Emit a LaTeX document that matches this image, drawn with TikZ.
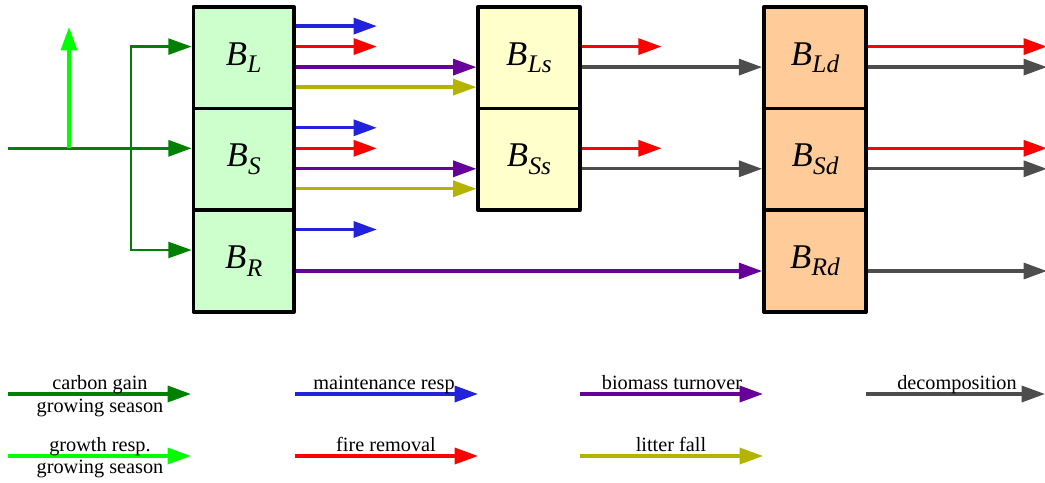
\documentclass[tikz,border=0pt]{standalone}
\usepackage{fontspec}
\setmainfont{Liberation Serif}
\usetikzlibrary{arrows.meta,calc}
\pgfdeclarelayer{bg}
\pgfsetlayers{bg,main}
\definecolor{cgreen}{RGB}{0,128,0}
\definecolor{cgrowth}{RGB}{0,255,0}
\definecolor{cblue}{RGB}{34,34,221}
\definecolor{cred}{RGB}{255,0,0}
\definecolor{cpurple}{RGB}{102,0,153}
\definecolor{colive}{RGB}{179,179,0}
\definecolor{cgray}{RGB}{77,77,77}
\definecolor{fgreen}{RGB}{204,255,204}
\definecolor{fyellow}{RGB}{255,255,204}
\definecolor{forange}{RGB}{255,204,153}
\newcommand\poolname[2]{{\fontsize{26}{26}\selectfont\itshape #1\kern0.3pt\raisebox{-5.5pt}{\fontsize{19}{19}\selectfont #2}}}
\begin{document}
\begin{tikzpicture}[x=0.75pt,y=-0.75pt,
  pool/.style={draw=black,line width=2.8pt,minimum height=76.3pt,inner sep=0pt,line join=round},
  poolA/.style={pool,fill=fgreen,minimum width=75.4pt},
  poolB/.style={pool,fill=fyellow,minimum width=76.1pt},
  poolC/.style={pool,fill=forange,minimum width=76.5pt},
  flow/.style={line width=2.5pt,-{Triangle[length=17.5pt,width=12pt]}},
  thinflow/.style={line width=1.9pt,-{Triangle[length=17.5pt,width=12pt]}},
  leg/.style={font=\fontsize{15.2}{15.2}\selectfont, inner sep=0pt, anchor=base}]
\useasboundingbox (0,0) rectangle (1045,482);

% pools
\node[poolA] (BL) at (243.75,57.6) {\poolname{B}{L}};
\node[poolA] (BS) at (243.75,159.3) {\poolname{B}{S}};
\node[poolA] (BR) at (243.75,261) {\poolname{B}{R}};
\node[poolB] (BLs) at (529,57.6) {\poolname{B}{Ls}};
\node[poolB] (BSs) at (529,159.3) {\poolname{B}{Ss}};
\node[poolC] (BLd) at (815,57.6) {\poolname{B}{Ld}};
\node[poolC] (BSd) at (815,159.3) {\poolname{B}{Sd}};
\node[poolC] (BRd) at (815,261) {\poolname{B}{Rd}};

% input coordinates
\coordinate (src) at (8,148.3);
\coordinate (gj) at (69,148.3);
\coordinate (gtop) at (69,27);
\coordinate (br) at (131,148.3);

% legend coordinates
\coordinate (g1a) at (8,394);   \coordinate (g1b) at (191,394);
\coordinate (m1a) at (295,394); \coordinate (m1b) at (478,394);
\coordinate (t1a) at (580,394); \coordinate (t1b) at (763,394);
\coordinate (d1a) at (866,394); \coordinate (d1b) at (1045,394);
\coordinate (g2a) at (8,456);   \coordinate (g2b) at (191,456);
\coordinate (f2a) at (295,456); \coordinate (f2b) at (478,456);
\coordinate (l2a) at (580,456); \coordinate (l2b) at (763,456);

% legend labels
\node[leg] (lcg1) at (100,389) {carbon gain};
\node[leg] (lcg2) at (100,412) {growing season};
\node[leg] (lmr) at (384,389) {maintenance resp};
\node[leg] (lbt) at (672,389) {biomass turnover};
\node[leg] (ldc) at (957,389) {decomposition};
\node[leg] (lgr1) at (100,451) {growth resp.};
\node[leg] (lgr2) at (100,473) {growing season};
\node[leg] (lfr) at (386,451) {fire removal};
\node[leg] (llf) at (671,451) {litter fall};

\begin{pgfonlayer}{bg}
% inputs
\draw[flow,cgreen] (src) -- ($(BS.west)+(0,-11)$);
\draw[flow,cgrowth] (gj) -- (gtop);
\draw[thinflow,cgreen] (br) |- ($(BL.west)+(0,-11)$);
\draw[thinflow,cgreen] (br) |- ($(BR.west)+(0,-11)$);

% live pools
\foreach \p in {BL,BS,BR}{
  \draw[flow,cblue] ($(\p.east)+(0,-31.5)$) -- ($(\p.east)+(81,-31.5)$);
}
\foreach \p in {BL,BS}{
  \draw[flow,cred] ($(\p.east)+(0,-11)$) -- ($(\p.east)+(81,-11)$);
}
\draw[flow,cpurple] ($(BL.east)+(0,9.5)$) -- ($(BLs.west)+(0,9.5)$);
\draw[flow,colive] ($(BL.east)+(0,29.5)$) -- ($(BLs.west)+(0,29.5)$);
\draw[flow,cpurple] ($(BS.east)+(0,9.5)$) -- ($(BSs.west)+(0,9.5)$);
\draw[flow,colive] ($(BS.east)+(0,29.5)$) -- ($(BSs.west)+(0,29.5)$);
\draw[flow,cpurple] ($(BR.east)+(0,10)$) -- ($(BRd.west)+(0,10)$);

% standing dead
\foreach \p in {BLs,BSs}{
  \draw[flow,cred] ($(\p.east)+(0,-11)$) -- ($(\p.east)+(80,-11)$);
}
\draw[flow,cgray] ($(BLs.east)+(0,9.5)$) -- ($(BLd.west)+(0,9.5)$);
\draw[flow,cgray] ($(BSs.east)+(0,9.5)$) -- ($(BSd.west)+(0,9.5)$);

% litter
\foreach \p in {BLd,BSd}{
  \draw[flow,cred] ($(\p.east)+(0,-11)$) -- ($(\p.east)+(179,-11)$);
}
\draw[flow,cgray] ($(BLd.east)+(0,9.5)$) -- ($(BLd.east)+(179,9.5)$);
\draw[flow,cgray] ($(BSd.east)+(0,9.5)$) -- ($(BSd.east)+(179,9.5)$);
\draw[flow,cgray] ($(BRd.east)+(0,10)$) -- ($(BRd.east)+(179,10)$);

% legend arrows
\draw[flow,cgreen] (g1a) -- (g1b);
\draw[flow,cblue] (m1a) -- (m1b);
\draw[flow,cpurple] (t1a) -- (t1b);
\draw[flow,cgray] (d1a) -- (d1b);
\draw[flow,cgrowth] (g2a) -- (g2b);
\draw[flow,cred] (f2a) -- (f2b);
\draw[flow,colive] (l2a) -- (l2b);
\end{pgfonlayer}
\end{tikzpicture}
\end{document}
